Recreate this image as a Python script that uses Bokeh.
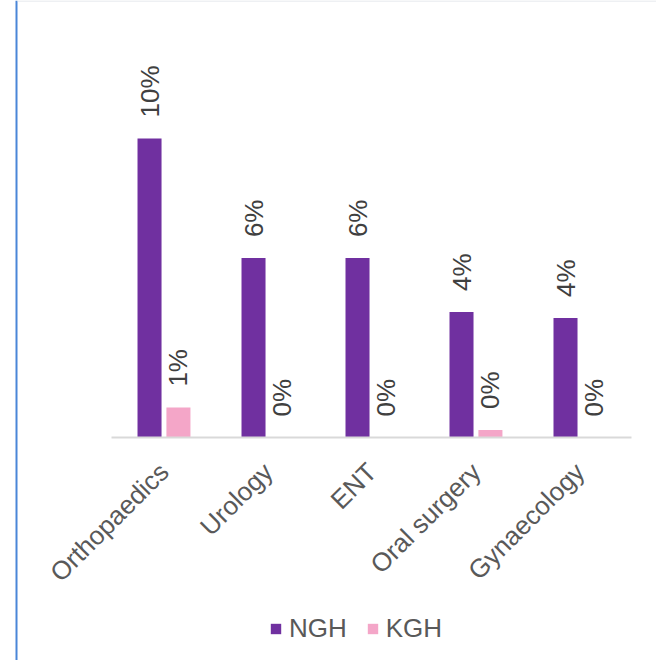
import math
from bokeh.plotting import figure
from bokeh.models import (ColumnDataSource, Range1d, Legend, LegendItem, Span,
                          BoxAnnotation, FixedTicker)
from bokeh.transform import dodge
from bokeh.core.properties import value
from bokeh.embed import file_html
from bokeh.resources import INLINE

categories = ["Orthopaedics", "Urology", "ENT", "Oral surgery", "Gynaecology"]
ngh = [10.0, 6.0, 6.0, 4.2, 4.0]
kgh = [1.0, 0.0, 0.0, 0.25, 0.0]
series_names = ["NGH", "KGH"]
colors = ["#7030A0", "#F4A6C8"]

idx = list(range(len(categories)))
src = ColumnDataSource(dict(
    x=idx,
    ngh=ngh,
    kgh=kgh,
    ngh_lbl=["{:.0f}%".format(v) for v in ngh],
    kgh_lbl=["{:.0f}%".format(v) for v in kgh],
))

W, H = 656, 660
p = figure(width=W, height=H, x_range=Range1d(-1.572, 4.736),
           y_range=Range1d(-7.458, 14.615), output_backend="svg",
           toolbar_location=None, min_border=0)
p.outline_line_color = None
p.grid.visible = False
p.yaxis.visible = False

font = "Liberation Sans"
txt_color = "#404040"
bw = 0.231
off = 0.139

r1 = p.vbar(x=dodge("x", -off), top="ngh", width=bw, source=src,
            fill_color=colors[0], line_color=None)
r2 = p.vbar(x=dodge("x", off), top="kgh", width=bw, source=src,
            fill_color=colors[1], line_color=None)

for col, lbl, o in (("ngh", "ngh_lbl", -off), ("kgh", "kgh_lbl", off)):
    p.text(x=dodge("x", o), y=col, text=lbl, source=src,
           angle=math.pi / 2, text_align="left", text_baseline="middle",
           y_offset=-21, text_font=value(font), text_font_size="26px",
           text_color=txt_color)

ax = p.xaxis[0]
ax.fixed_location = 0
ax.bounds = (-0.5, len(categories) - 0.5)
ax.ticker = FixedTicker(ticks=idx)
ax.major_label_overrides = {i: c for i, c in zip(idx, categories)}
ax.axis_line_color = "#D9D9D9"
ax.axis_line_width = 2
ax.major_tick_line_color = None
ax.minor_tick_line_color = None
ax.major_label_orientation = math.pi / 4
ax.major_label_text_font = font
ax.major_label_text_font_size = "26px"
ax.major_label_text_color = "#595959"
ax.major_label_standoff = 24

legend = Legend(items=[LegendItem(label=series_names[0], renderers=[r1]),
                       LegendItem(label=series_names[1], renderers=[r2])],
                orientation="horizontal", location=(269, 16),
                padding=0, margin=0, spacing=19, label_standoff=7,
                glyph_width=13, glyph_height=13, label_height=26,
                label_text_font=font, label_text_font_size="26px",
                label_text_color="#595959", border_line_color=None,
                background_fill_alpha=0)
p.add_layout(legend, "center")

p.add_layout(Span(location=16, location_units="canvas", dimension="height",
                  line_color="#4A86D8", line_width=2))
p.add_layout(BoxAnnotation(left=17, right=W, top=0, bottom=1,
                           left_units="canvas", right_units="canvas",
                           top_units="canvas", bottom_units="canvas",
                           fill_color="#DDE2E8", fill_alpha=1, line_color=None))

open("out.html", "w").write(file_html(p, INLINE))
